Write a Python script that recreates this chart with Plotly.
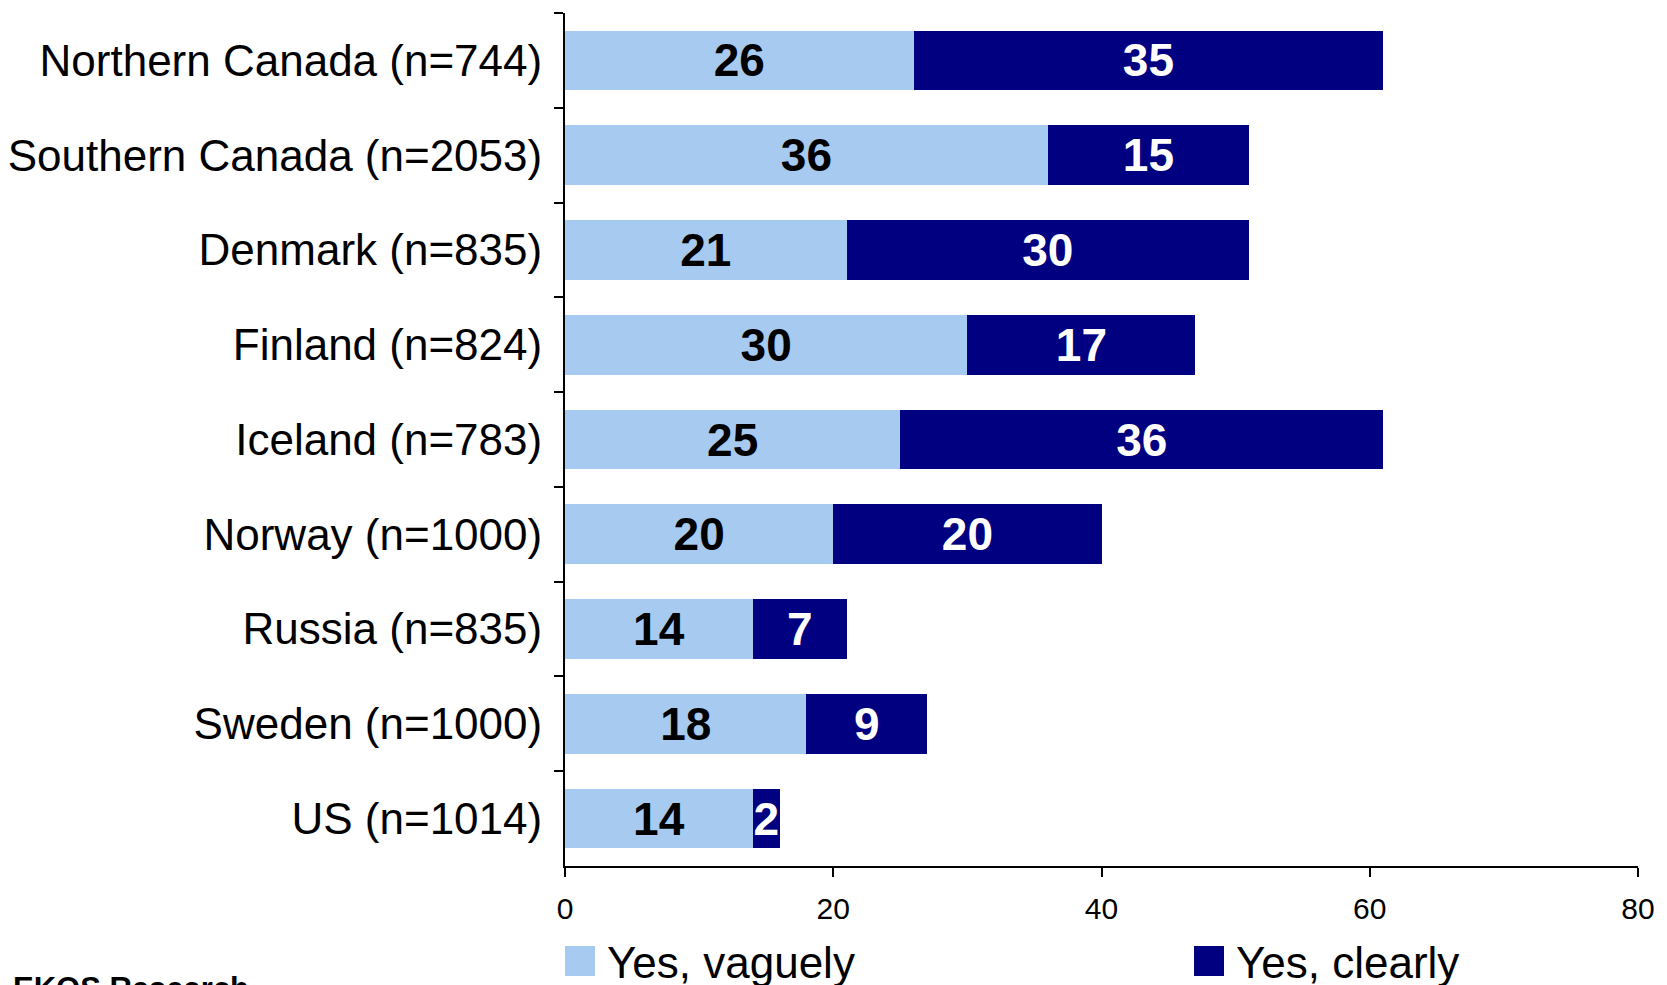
import plotly.graph_objects as go

categories = ["Northern Canada (n=744)", "Southern Canada (n=2053)", "Denmark (n=835)",
              "Finland (n=824)", "Iceland (n=783)", "Norway (n=1000)", "Russia (n=835)",
              "Sweden (n=1000)", "US (n=1014)"]
vaguely = [26, 36, 21, 30, 25, 20, 14, 18, 14]
clearly = [35, 15, 30, 17, 36, 20, 7, 9, 2]
series_names = ["Yes, vaguely", "Yes, clearly"]
x_ticks = [0, 20, 40, 60, 80]
source = "EKOS Research"

LIGHT = "#A6CAF0"
DARK = "#000080"
FONT = "Liberation Sans Narrow, Arial Narrow, Liberation Sans, Arial, sans-serif"

W, H = 1667, 985
OFF = 8  # browser default body margin
# target page-pixel plot area: x 565..1638, y 13..866
L = 565 - OFF
R = W + OFF - 1638
T = 13 - OFF
B = H + OFF - 866

fig = go.Figure()
for vals, col, tcol, name in [(vaguely, LIGHT, "black", series_names[0]),
                              (clearly, DARK, "white", series_names[1])]:
    fig.add_trace(go.Bar(
        y=categories, x=vals, orientation="h", name=name,
        marker=dict(color=col, line=dict(width=0)), width=0.63,
        text=vals, texttemplate="<b>%{x}</b>", textposition="inside",
        insidetextanchor="middle", constraintext="none", textangle=0,
        textfont=dict(family=FONT, size=46, color=tcol), showlegend=False,
    ))

ph = H - T - B
pw = W - L - R

def yp(pix):
    # page pixel y -> paper coordinate
    return (866 - pix) / ph

def xp(pix):
    return (pix - 565) / pw

legend_items = [(565, LIGHT, series_names[0]), (1194, DARK, series_names[1])]
shapes = []
annotations = []
for xpx, col, name in legend_items:
    shapes.append(dict(type="rect", xref="paper", yref="paper",
                       x0=xp(xpx), x1=xp(xpx + 30), y0=yp(976), y1=yp(946),
                       line=dict(width=0), fillcolor=col))
    annotations.append(dict(xref="paper", yref="paper", x=xp(xpx + 40), y=yp(962),
                            xanchor="left", yanchor="middle", showarrow=False,
                            text=name, font=dict(family=FONT, size=44, color="black")))
annotations.append(dict(xref="paper", yref="paper", x=xp(11), y=yp(969),
                        xanchor="left", yanchor="top", showarrow=False,
                        text="<b>" + source + "</b>",
                        font=dict(family="Liberation Sans, Arial, sans-serif", size=31, color="black")))

fig.update_layout(
    width=W, height=H,
    margin=dict(l=L, r=R, t=T, b=B, autoexpand=False),
    barmode="stack",
    paper_bgcolor="white", plot_bgcolor="white",
    font=dict(family=FONT, color="black"),
    showlegend=False,
    shapes=shapes, annotations=annotations,
)

fig.update_yaxes(
    autorange="reversed", showline=True, linecolor="black", linewidth=2,
    ticks="outside", tickson="boundaries", ticklen=9, tickwidth=2, tickcolor="black",
    tickfont=dict(family=FONT, size=44, color="black"), ticklabelstandoff=12,
    showgrid=False, automargin=False,
)
fig.update_xaxes(
    range=[0, 80], tickvals=x_ticks, showline=True, linecolor="black", linewidth=2,
    ticks="outside", ticklen=9, tickwidth=2, tickcolor="black",
    tickfont=dict(family=FONT, size=30, color="black"), ticklabelstandoff=6,
    showgrid=False, zeroline=False, automargin=False,
)

fig.write_html("out.html")
